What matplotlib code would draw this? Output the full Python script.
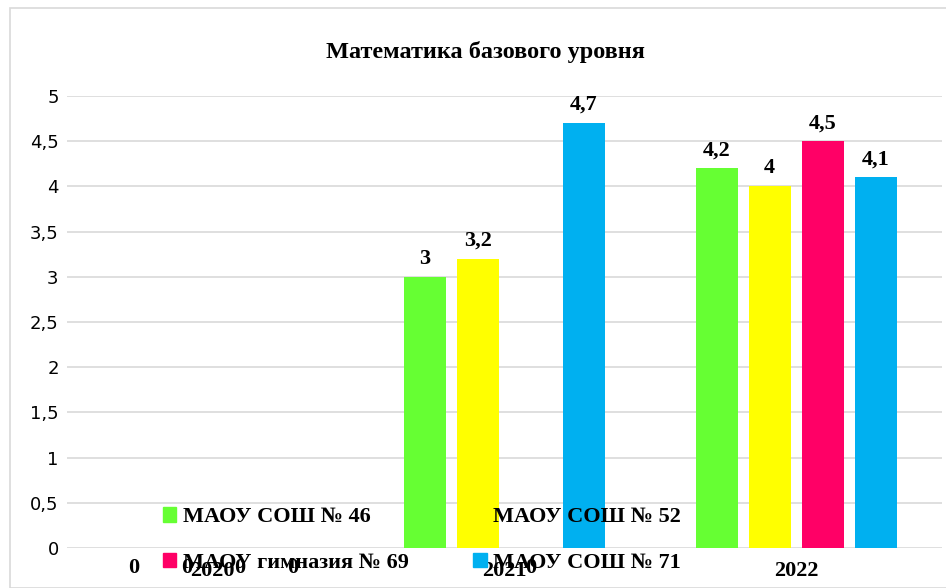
import matplotlib.pyplot as plt
import numpy as np
from matplotlib.patches import Patch, Rectangle

# data
years = ['2020', '2021', '2022']
schools = ['МАОУ СОШ № 46', 'МАОУ СОШ № 52', 'МАОУ гимназия № 69', 'МАОУ СОШ № 71']
values = [
    [0, 3.0, 4.2],
    [0, 3.2, 4.0],
    [0, 0, 4.5],
    [0, 4.7, 4.1],
]
colors = ['#66ff33', '#ffff00', '#ff0066', '#00b0f0']

W, H = 946, 588
fig = plt.figure(figsize=(W / 100, H / 100), dpi=100)

# light frame around the chart
fig.patches.append(Rectangle((10 / W, 0), 2, 1 - 8 / H, transform=fig.transFigure,
                             fill=False, edgecolor='#d9d9d9', linewidth=1.2))

ax = fig.add_axes([67 / W, 40 / H, 875 / W, 452 / H])

x = np.arange(len(years))
step = 0.1817
width = 0.144
serif = 'Liberation Serif'

for i, (name, vals, col) in enumerate(zip(schools, values, colors)):
    pos = x + (i - 1.5) * step
    ax.bar(pos, vals, width=width, color=col, zorder=3)
    for px, v in zip(pos, vals):
        label = f'{v:g}'.replace('.', ',')
        if v == 0:
            ax.text(px, -0.22, label, ha='center', va='center', fontsize=16,
                    fontweight='bold', family=serif, zorder=4, clip_on=False)
        else:
            ax.text(px, v + 0.2, label, ha='center', va='center', fontsize=16,
                    fontweight='bold', family=serif, zorder=4)

ax.set_xlim(-0.5, 2.5)
ax.set_ylim(0, 5)
ticks = np.arange(0, 5.01, 0.5)
ax.set_yticks(ticks)
ax.set_yticklabels([f'{t:g}'.replace('.', ',') for t in ticks], fontsize=13)
ax.set_xticks(x)
ax.set_xticklabels(years, fontsize=16, fontweight='bold', family=serif)
ax.tick_params(axis='y', length=0, pad=6)
ax.tick_params(axis='x', length=0, pad=9)
ax.grid(axis='y', color='#d9d9d9', linewidth=1.2, zorder=0)
for s in ax.spines.values():
    s.set_visible(False)

fig.text(485 / W, (H - 52) / H, 'Математика базового уровня', fontsize=17.5,
         fontweight='bold', family=serif, ha='center', va='center')

# legend: column-wise fill, so order gives rows 46/52 and 69/71
order = [0, 2, 1, 3]
handles = [Patch(color=colors[k]) for k in order]
labels = [schools[k] for k in order]
leg = ax.legend(handles, labels, ncol=2, loc='center left',
                bbox_to_anchor=(143 / W, (H - 540) / H), bbox_transform=fig.transFigure,
                frameon=False, prop={'family': serif, 'weight': 'bold', 'size': 16},
                handlelength=0.6, handleheight=0.6, handletextpad=0.3,
                columnspacing=2.9, labelspacing=1.14)
leg.set_zorder(5)

fig.savefig('out.png', dpi=100)
